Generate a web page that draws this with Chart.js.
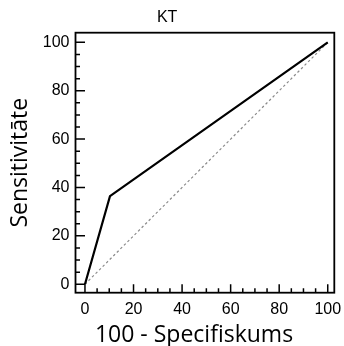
<!DOCTYPE html>
<html>
<head>
<meta charset="utf-8">
<script src="https://cdn.jsdelivr.net/npm/chart.js@4"></script>
<style>
  html, body { margin: 0; padding: 0; background: #fff; }
  #wrap { width: 344px; height: 346px; }
</style>
</head>
<body>
<div id="wrap"><canvas id="roc" width="344" height="346"></canvas></div>
<script>
// ROC curve for KT
const chartTitle = 'KT';
const xAxisTitle = '100 - Specifiskums';
const yAxisTitle = 'Sensitivitāte';

const falsePositiveRate = [0, 10.3, 100];   // 100 - specificity
const truePositiveRate  = [0, 36.4, 100];   // sensitivity

const chanceX = [0, 100];
const chanceY = [0, 100];

const majorTicks = [0, 20, 40, 60, 80, 100];
const minorTicks = [5, 10, 15, 25, 30, 35, 45, 50, 55, 65, 70, 75, 85, 90, 95];

const toPoints = (xs, ys) => xs.map((x, i) => ({ x: x, y: ys[i] }));

const tickFont = { family: "Arial, 'Liberation Sans', sans-serif", size: 16 };

// Plot frame plus inward major/minor ticks on the left and bottom edges
const framePlugin = {
  id: 'frame',
  afterDatasetsDraw(chart) {
    const { ctx, chartArea: a, scales } = chart;
    ctx.save();
    ctx.strokeStyle = '#000';
    ctx.lineWidth = 1.8;
    ctx.strokeRect(a.left, a.top, a.right - a.left, a.bottom - a.top);
    ctx.lineWidth = 1.5;
    ctx.beginPath();
    const drawX = (v, len) => {
      const px = scales.x.getPixelForValue(v);
      ctx.moveTo(px, a.bottom);
      ctx.lineTo(px, a.bottom - len);
    };
    const drawY = (v, len) => {
      const py = scales.y.getPixelForValue(v);
      ctx.moveTo(a.left, py);
      ctx.lineTo(a.left + len, py);
    };
    majorTicks.forEach(v => { drawX(v, 8.5); drawY(v, 9.5); });
    minorTicks.forEach(v => { drawX(v, 4.5); drawY(v, 4.5); });
    ctx.stroke();
    ctx.restore();
  },
  afterDraw(chart) {
    const { ctx, chartArea: a } = chart;
    ctx.save();
    ctx.fillStyle = '#000';
    ctx.font = "23px 'Open Sans', sans-serif";
    ctx.textAlign = 'center';
    ctx.textBaseline = 'alphabetic';
    ctx.fillText(xAxisTitle, 194, 341.5);
    ctx.translate(27.3, (a.top + a.bottom) / 2);
    ctx.rotate(-Math.PI / 2);
    ctx.fillText(yAxisTitle, 0, 0);
    ctx.restore();
  }
};

new Chart(document.getElementById('roc'), {
  type: 'scatter',
  data: {
    datasets: [
      {
        label: 'Nejaušība',
        data: toPoints(chanceX, chanceY),
        showLine: true,
        borderColor: '#8a8a8a',
        borderWidth: 1.2,
        borderDash: [2.5, 2.5],
        pointRadius: 0,
        order: 2
      },
      {
        label: chartTitle,
        data: toPoints(falsePositiveRate, truePositiveRate),
        showLine: true,
        borderColor: '#000',
        borderWidth: 2.2,
        pointRadius: 0,
        tension: 0,
        order: 1
      }
    ]
  },
  options: {
    responsive: false,
    animation: false,
    devicePixelRatio: 1,
    layout: { padding: { top: 0, right: 9.7, bottom: 0, left: 0 } },
    plugins: {
      legend: { display: false },
      tooltip: { enabled: false },
      title: {
        display: true,
        text: chartTitle,
        color: '#000',
        font: { family: "Arial, 'Liberation Sans', sans-serif", size: 16, weight: 'normal', lineHeight: 1.2 },
        padding: { top: 7.5, bottom: 6 }
      }
    },
    scales: {
      x: {
        type: 'linear',
        min: -3.9,
        max: 102.7,
        grid: { display: false, drawTicks: false },
        border: { display: false },
        afterBuildTicks: s => { s.ticks = majorTicks.map(v => ({ value: v })); },
        afterFit: s => { s.height = 53.3; s.paddingLeft = 0; s.paddingRight = 0; },
        ticks: { color: '#000', font: tickFont, padding: 7, maxRotation: 0 }
      },
      y: {
        type: 'linear',
        min: -3.5,
        max: 104,
        grid: { display: false, drawTicks: false },
        border: { display: false },
        afterBuildTicks: s => { s.ticks = majorTicks.map(v => ({ value: v })); },
        afterFit: s => { s.width = 75.5; s.paddingTop = 0; s.paddingBottom = 0; },
        ticks: { color: '#000', font: tickFont, padding: 6 }
      }
    }
  },
  plugins: [framePlugin]
});
</script>
</body>
</html>
